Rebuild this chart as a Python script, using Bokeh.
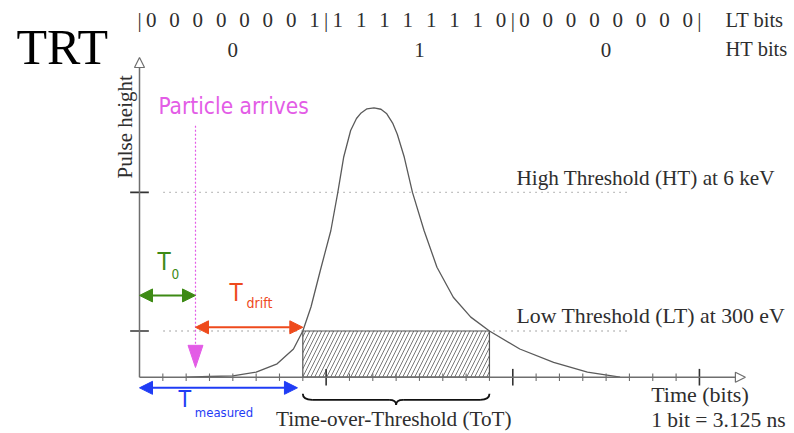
from bokeh.plotting import figure
from bokeh.models import Arrow, NormalHead, Label, Range1d, ColumnDataSource
from bokeh.core.properties import value
from bokeh.embed import file_html
from bokeh.resources import INLINE

# ---- data (time in bits, pulse height in units of the low threshold) ----
pulse_t = [2.0, 3.0, 4.0, 5.0, 5.9, 6.6, 7.0, 7.35, 7.75, 8.2, 8.5, 8.75, 9.05, 9.3, 9.5,
           9.75, 10.05, 10.35, 10.6, 10.85, 11.05, 11.35, 11.7, 12.2, 12.75, 13.45, 14.2,
           15.0, 16.3, 17.75, 19.2, 20.6]
pulse_v = [0.0, 0.015, 0.03, 0.11, 0.29, 0.61, 1.0, 1.52, 2.31, 3.17, 4.0, 4.76, 5.34, 5.6, 5.72,
           5.81, 5.83, 5.8, 5.7, 5.5, 5.26, 4.76, 4.0, 3.17, 2.38, 1.73, 1.30,
           1.0, 0.61, 0.32, 0.11, 0.0]
lt_bits = [0, 0, 0, 0, 0, 0, 0, 1,
           1, 1, 1, 1, 1, 1, 1, 0,
           0, 0, 0, 0, 0, 0, 0, 0]
ht_bits = [0, 1, 0]
bits_per_word = 8
lt_level = 1.0
ht_level = 4.0
t_particle = 2.4
tot_start = 7.0
tot_end = 15.0
t_meas_end = 6.77

SERIF_NAME = "Liberation Serif"
SANS_NAME = "DejaVu Sans Condensed, Liberation Sans Narrow, sans-serif"
SERIF = value(SERIF_NAME)
TXT = "#2e2e2e"
AX = "#6e6e6e"
MAG = "#e35ce6"
GRN = "#3d8a14"
RED = "#ee4a1c"
BLU = "#1f3cf5"
UNIT_PX = 46.2   # pixels per height unit (for baseline correction)
K_BASE = 0.34

def lift(size_px):
    return K_BASE * size_px / UNIT_PX

p = figure(width=794, height=433, x_range=Range1d(-5.958, 28.075), y_range=Range1d(-1.2186, 8.1537),
           output_backend="svg", toolbar_location=None, min_border=0,
           x_axis_location=None, y_axis_location=None)
p.grid.visible = False
p.outline_line_color = None
p.background_fill_color = "white"

# hatched ToT region
p.quad(left=tot_start, right=tot_end, bottom=0, top=lt_level, fill_color=None,
       hatch_pattern="/", hatch_color="#555555", hatch_scale=8, hatch_weight=0.8,
       line_color="#555555", line_width=1.2)

# threshold dotted lines
p.segment(x0=[1.03, 1.03], y0=[ht_level, lt_level], x1=[21.0, 20.95], y1=[ht_level, lt_level],
          line_color="#8a8a8a", line_dash="1 5", line_width=1.3)

# pulse
p.line(pulse_t, pulse_v, line_color="#5a5a5a", line_width=1.3)

# axes
n_bits = len(lt_bits)
minor = [k for k in range(1, n_bits) if k % bits_per_word]
major = [k for k in range(bits_per_word, n_bits + 1, bits_per_word)]
p.segment(x0=minor, y0=[-0.08] * len(minor), x1=minor, y1=[0.08] * len(minor), line_color=AX, line_width=1.1)
p.segment(x0=major, y0=[-0.18] * len(major), x1=major, y1=[0.18] * len(major), line_color="#333333", line_width=1.6)
p.segment(x0=[-0.4, -0.4], y0=[lt_level, ht_level], x1=[0.4, 0.4], y1=[lt_level, ht_level],
          line_color="#333333", line_width=1.6)
p.add_layout(Arrow(end=NormalHead(size=10, fill_color="white", line_color=AX, line_width=1.2),
                   x_start=0, y_start=0, x_end=0, y_end=6.92, line_color=AX, line_width=1.5))
p.add_layout(Arrow(end=NormalHead(size=10, fill_color="white", line_color=AX, line_width=1.2),
                   x_start=0, y_start=0, x_end=25.97, y_end=0, line_color=AX, line_width=1.5))

# particle arrival marker
p.segment(x0=[t_particle], y0=[5.44], x1=[t_particle], y1=[0.69], line_color=MAG, line_dash="2 2", line_width=1.2)
p.patch([t_particle - 0.32, t_particle + 0.32, t_particle], [0.69, 0.69, 0.21], fill_color=MAG, line_color=MAG)

def dbl_arrow(x0, x1, y, c):
    p.add_layout(Arrow(start=NormalHead(size=13, fill_color=c, line_color=c),
                       end=NormalHead(size=13, fill_color=c, line_color=c),
                       x_start=x0, y_start=y, x_end=x1, y_end=y, line_color=c, line_width=2))

dbl_arrow(0, t_particle, 1.77, GRN)
dbl_arrow(t_particle, tot_start, 1.08, RED)
dbl_arrow(0, t_meas_end, -0.23, BLU)

# brace under ToT
mid = (tot_start + tot_end) / 2
p.bezier(x0=[tot_start, mid - 0.3, mid, tot_end - 0.4],
         y0=[-0.36, -0.49, -0.60, -0.49],
         x1=[tot_start + 0.4, mid, mid + 0.3, tot_end],
         y1=[-0.49, -0.60, -0.49, -0.36],
         cx0=[tot_start, mid - 0.1, mid, tot_end - 0.15],
         cy0=[-0.46, -0.49, -0.53, -0.49],
         cx1=[tot_start + 0.15, mid, mid + 0.1, tot_end],
         cy1=[-0.49, -0.53, -0.49, -0.46],
         line_color="#111111", line_width=1.8)
p.segment(x0=[tot_start + 0.4, mid + 0.3], y0=[-0.49, -0.49], x1=[mid - 0.3, tot_end - 0.4], y1=[-0.49, -0.49],
          line_color="#111111", line_width=1.8)

# bit words on top
DIG = 21
src_lt = ColumnDataSource(dict(x=[k + 0.5 for k in range(n_bits)], y=[7.58 + lift(DIG)] * n_bits,
                               t=[str(b) for b in lt_bits]))
p.text(x="x", y="y", text="t", source=src_lt, text_font=SERIF, text_font_size=f"{DIG}px",
       text_align="center", text_baseline="alphabetic", text_color=TXT)
seps = list(range(0, n_bits + 1, bits_per_word))
src_sep = ColumnDataSource(dict(x=seps, y=[7.58 + lift(DIG)] * len(seps), t=["|"] * len(seps)))
p.text(x="x", y="y", text="t", source=src_sep, text_font=SERIF, text_font_size=f"{DIG}px",
       text_align="center", text_baseline="alphabetic", text_color=TXT)
src_ht = ColumnDataSource(dict(x=[bits_per_word * i + bits_per_word / 2 for i in range(len(ht_bits))],
                               y=[6.93 + lift(DIG)] * len(ht_bits), t=[str(b) for b in ht_bits]))
p.text(x="x", y="y", text="t", source=src_ht, text_font=SERIF, text_font_size=f"{DIG}px",
       text_align="center", text_baseline="alphabetic", text_color=TXT)

def lab(x, y, t, font, size, color=TXT, align="left", baseline="alphabetic", angle=0):
    dy = lift(size) if baseline == "alphabetic" else 0
    p.add_layout(Label(x=x, y=y + dy, text=t, text_font=font, text_font_size=f"{size}px", text_color=color,
                       text_align=align, text_baseline=baseline, angle=angle))

lab(-5.27, 6.78, "TRT", SERIF_NAME, 50, color="black")
lab(25.12, 7.59, "LT bits", SERIF_NAME, 20.5)
lab(25.12, 6.96, "HT bits", SERIF_NAME, 20.5)
lab(-0.62, 5.42, "Pulse height", SERIF_NAME, 21, align="center", baseline="middle", angle=1.5708)
lab(0.81, 5.70, "Particle arrives", SANS_NAME, 22.5, color=MAG)
lab(16.16, 4.15, "High Threshold (HT) at 6 keV", SERIF_NAME, 21.2)
lab(16.16, 1.16, "Low Threshold (LT) at 300 eV", SERIF_NAME, 21.8)
lab(mid - 0.1, -1.05, "Time-over-Threshold (ToT)", SERIF_NAME, 21.2, align="center")
lab(21.93, -0.53, "Time (bits)", SERIF_NAME, 22)
lab(21.93, -1.08, "1 bit = 3.125 ns", SERIF_NAME, 21.5)
lab(0.77, 2.31, "T", SANS_NAME, 24, color=GRN)
lab(1.37, 2.14, "0", SANS_NAME, 13.5, color=GRN)
lab(3.86, 1.65, "T", SANS_NAME, 24, color=RED)
lab(4.59, 1.50, "drift", SANS_NAME, 14, color=RED)
lab(1.67, -0.65, "T", SANS_NAME, 23, color=BLU)
lab(2.37, -0.85, "measured", SANS_NAME, 13, color=BLU)

open("out.html", "w").write(file_html(p, INLINE))
